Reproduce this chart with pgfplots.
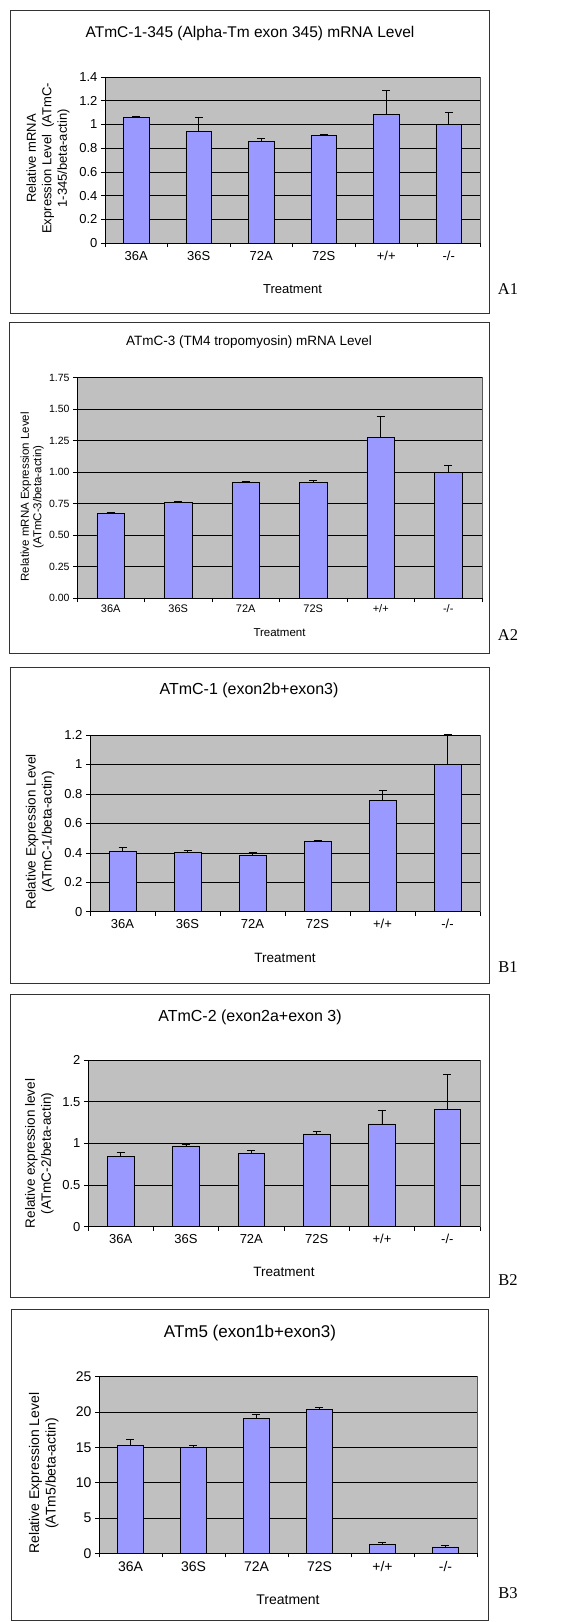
\documentclass[border=0pt]{standalone}
\usepackage{fontspec}
\setmainfont{Liberation Sans}
\newfontfamily\timesf{Liberation Serif}
\usepackage{pgfplots}
\pgfplotsset{compat=1.18}
\definecolor{barblue}{HTML}{9999FF}
\definecolor{plotbg}{HTML}{C0C0C0}
\newcommand{\fs}[1]{\fontsize{#1}{#1}\selectfont}
\pgfplotsset{
  excel/.style={
    scale only axis,
    clip=false,
    /pgf/number format/assume math mode=true,
    xmin=-0.5, xmax=5.5, ymin=0,
    axis lines*=left,
    axis line style={black, line width=0.6pt},
    axis background/.style={fill=plotbg, draw=gray!70!black, line width=0.5pt},
    xtick={-0.5,0.5,1.5,2.5,3.5,4.5,5.5},
    xticklabels={},
    extra x ticks={0,1,2,3,4,5},
    extra x tick labels={36A,36S,72A,72S,+/+,-/-},
    extra x tick style={major tick length=0pt, grid=none},
    tick align=outside,
    major tick length=4pt,
    tick style={black, line width=0.6pt},
    ymajorgrids,
    major grid style={black, line width=0.6pt},
    ylabel style={align=center, anchor=center, rotate=0},
    xlabel style={anchor=center},
  },
  bars/.style={
    ybar, bar width=0.41, fill=barblue, draw=black, line width=0.6pt,
    error bars/.cd, y dir=plus, y explicit,
    error bar style={black, line width=0.6pt},
    error mark options={black, mark size=4pt, rotate=90, line width=0.6pt},
  },
}
\begin{document}
\begin{tikzpicture}
\path[use as bounding box] (0,0) rectangle (582pt,-1622pt);
% boxes
\draw[line width=0.8pt, black!80] (10pt,-10pt) rectangle (489pt,-313pt);
\draw[line width=0.8pt, black!80] (9pt,-322pt) rectangle (489pt,-653pt);
\draw[line width=0.8pt, black!80] (10pt,-667pt) rectangle (489pt,-983pt);
\draw[line width=0.8pt, black!80] (10pt,-994pt) rectangle (489pt,-1297pt);
\draw[line width=0.8pt, black!80] (11pt,-1309pt) rectangle (488pt,-1620pt);
% panel letters
\node[font=\timesf\fs{16.5}] at (508pt,-289pt) {A1};
\node[font=\timesf\fs{16.5}] at (508pt,-635pt) {A2};
\node[font=\timesf\fs{16.5}] at (508pt,-967pt) {B1};
\node[font=\timesf\fs{16.5}] at (508pt,-1280pt) {B2};
\node[font=\timesf\fs{16.5}] at (508pt,-1593pt) {B3};
% titles
\node[font=\fs{15.5}] at (250pt,-33pt) {ATmC-1-345 (Alpha-Tm exon 345) mRNA Level};
\node[font=\fs{13.5}] at (249pt,-342pt) {ATmC-3 (TM4 tropomyosin) mRNA Level};
\node[font=\fs{16}] at (249pt,-690pt) {ATmC-1 (exon2b+exon3)};
\node[font=\fs{16}] at (250pt,-1017pt) {ATmC-2 (exon2a+exon 3)};
\node[font=\fs{17}] at (250pt,-1333pt) {ATm5 (exon1b+exon3)};

% A1
\begin{axis}[excel, anchor=south west, at={(105pt,-243pt)}, width=375pt, height=166pt,
  ymax=1.4, ytick={0,0.2,0.4,0.6,0.8,1,1.2,1.4},
  ticklabel style={font=\fs{13}},
  xticklabel style={yshift=-5pt},
  ylabel={Relative mRNA\\Expression Level\ \ (ATmC-\\1-345/beta-actin)},
  ylabel style={font=\fontsize{13}{15.5}\selectfont, at={(axis description cs:-0.152,0.51)}, rotate=0},
  xlabel={Treatment}, xlabel style={font=\fs{13}, at={(axis description cs:0.5,-0.277)}}]
\addplot[bars] coordinates {(0,1.06) +- (0,0.01) (1,0.94) +- (0,0.12) (2,0.86) +- (0,0.025) (3,0.91) +- (0,0.005) (4,1.085) +- (0,0.205) (5,1.00) +- (0,0.10)};
\end{axis}

% A2
\begin{axis}[excel, anchor=south west, at={(77pt,-598.3pt)}, width=405pt, height=220.6pt,
  ymax=1.75, ytick={0,0.25,0.5,0.75,1,1.25,1.5,1.75},
  yticklabel style={/pgf/number format/fixed, /pgf/number format/fixed zerofill, /pgf/number format/precision=2, font=\fs{10.5}},
  xticklabel style={font=\fs{11}, yshift=-3pt},
  ylabel={Relative mRNA Expression Level\\(ATmC-3/beta-actin)},
  ylabel style={font=\fontsize{11.5}{12.5}\selectfont, at={(axis description cs:-0.111,0.46)}},
  xlabel={Treatment}, xlabel style={font=\fs{11.5}, at={(axis description cs:0.5,-0.157)}}]
\addplot[bars] coordinates {(0,0.674) +- (0,0.008) (1,0.759) +- (0,0.013) (2,0.92) +- (0,0.008) (3,0.92) +- (0,0.016) (4,1.274) +- (0,0.166) (5,0.997) +- (0,0.055)};
\end{axis}

% B1
\begin{axis}[excel, anchor=south west, at={(90pt,-911.7pt)}, width=390pt, height=176.7pt,
  ymax=1.2, ytick={0,0.2,0.4,0.6,0.8,1,1.2},
  ticklabel style={font=\fs{13}},
  xticklabel style={yshift=-4pt},
  ylabel={Relative Expression Level\\(ATmC-1/beta-actin)},
  ylabel style={font=\fontsize{13.5}{16}\selectfont, at={(axis description cs:-0.128,0.453)}},
  xlabel={Treatment}, xlabel style={font=\fs{13.5}, at={(axis description cs:0.5,-0.262)}}]
\addplot[bars] coordinates {(0,0.408) +- (0,0.027) (1,0.403) +- (0,0.014) (2,0.38) +- (0,0.023) (3,0.478) +- (0,0.009) (4,0.754) +- (0,0.072) (5,1.0) +- (0,0.207)};
\end{axis}

% B2
\begin{axis}[excel, anchor=south west, at={(88pt,-1226.7pt)}, width=392pt, height=166.7pt,
  ymax=2, ytick={0,0.5,1,1.5,2},
  ticklabel style={font=\fs{13}},
  xticklabel style={yshift=-4pt},
  ylabel={Relative expression level\\(ATmC-2/beta-actin)},
  ylabel style={font=\fontsize{13.5}{16}\selectfont, at={(axis description cs:-0.124,0.44)}},
  xlabel={Treatment}, xlabel style={font=\fs{13.5}, at={(axis description cs:0.5,-0.272)}}]
\addplot[bars] coordinates {(0,0.842) +- (0,0.052) (1,0.97) +- (0,0.024) (2,0.878) +- (0,0.044) (3,1.114) +- (0,0.028) (4,1.234) +- (0,0.161) (5,1.403) +- (0,0.429)};
\end{axis}

% B3
\begin{axis}[excel, anchor=south west, at={(99pt,-1553.3pt)}, width=378pt, height=176.6pt,
  ymax=25, ytick={0,5,10,15,20,25},
  ticklabel style={font=\fs{14}},
  xticklabel style={yshift=-5pt},
  ylabel={Relative Expression Level\\(ATm5/beta-actin)},
  ylabel style={font=\fontsize{14}{16.5}\selectfont, at={(axis description cs:-0.146,0.453)}},
  xlabel={Treatment}, xlabel style={font=\fs{14}, at={(axis description cs:0.5,-0.264)}}]
\addplot[bars] coordinates {(0,15.28) +- (0,0.85) (1,15.0) +- (0,0.28) (2,19.1) +- (0,0.52) (3,20.38) +- (0,0.28) (4,1.23) +- (0,0.33) (5,0.9) +- (0,0.18)};
\end{axis}
\end{tikzpicture}
\end{document}
